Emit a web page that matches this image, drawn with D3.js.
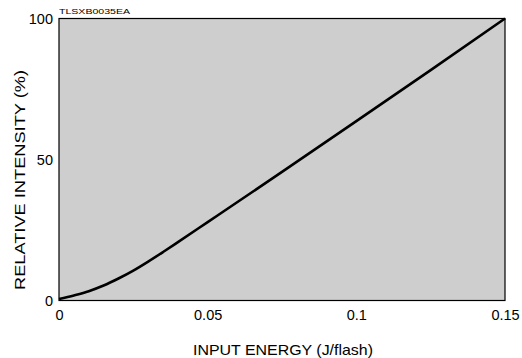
<!DOCTYPE html>
<html>
<head>
<meta charset="utf-8">
<script src="https://cdn.jsdelivr.net/npm/d3@7"></script>
<style>
  html, body { margin: 0; padding: 0; background: #fff; }
  svg { display: block; font-family: "Liberation Sans", Arial, sans-serif; }
</style>
</head>
<body>
<svg id="chart" width="522" height="358"></svg>
<script>
// Input energy (J/flash) vs relative intensity (%)
const energy    = [0, 0.005, 0.01, 0.015, 0.02, 0.025, 0.03, 0.035, 0.04, 0.05, 0.075, 0.1, 0.125, 0.15];
const intensity = [0.5, 1.8, 3.3, 5.3, 7.8, 10.6, 13.8, 17.2, 20.7, 27.8, 45.6, 63.6, 81.7, 100];
const xTicks = [0, 0.05, 0.1, 0.15];
const xTickLabels = ["0", "0.05", "0.1", "0.15"];
const yTicks = [0, 50, 100];
const yTickLabels = ["0", "50", "100"];
const xTitle = "INPUT ENERGY (J/flash)";
const yTitle = "RELATIVE INTENSITY (%)";
const code = "TLSXB0035EA";

const svg = d3.select("#chart");
const m = { left: 59, right: 17, top: 18.5, bottom: 57.5 };
const W = 522, H = 358;

const x = d3.scaleLinear().domain([0, 0.15]).range([m.left, W - m.right]);
const y = d3.scaleLinear().domain([0, 100]).range([H - m.bottom, m.top]);

// plot background
svg.append("rect")
  .attr("x", x(0)).attr("y", y(100))
  .attr("width", x(0.15) - x(0)).attr("height", y(0) - y(100))
  .attr("fill", "#cecece");

// curve
const pts = energy.map((e, i) => [e, intensity[i]]);
svg.append("path")
  .datum(pts)
  .attr("fill", "none")
  .attr("stroke", "#000")
  .attr("stroke-width", 2.6)
  .attr("d", d3.line().x(d => x(d[0])).y(d => y(d[1])).curve(d3.curveMonotoneX));

// frame
svg.append("rect")
  .attr("x", x(0)).attr("y", y(100))
  .attr("width", x(0.15) - x(0)).attr("height", y(0) - y(100))
  .attr("fill", "none").attr("stroke", "#000").attr("stroke-width", 1.2);

// axes (labels only, frame drawn above)
const xAxis = d3.axisBottom(x).tickValues(xTicks).tickSize(0).tickPadding(9)
  .tickFormat((d, i) => xTickLabels[i]);
const gx = svg.append("g").attr("transform", `translate(0,${y(0)})`).call(xAxis);
gx.select(".domain").remove();
gx.selectAll("text").attr("font-size", 14.5).attr("fill", "#000")
  .attr("font-family", "Liberation Sans, Arial, sans-serif");

const yAxis = d3.axisLeft(y).tickValues(yTicks).tickSize(0).tickPadding(6)
  .tickFormat((d, i) => yTickLabels[i]);
const gy = svg.append("g").attr("transform", `translate(${x(0)},0)`).call(yAxis);
gy.select(".domain").remove();
gy.selectAll("text").attr("font-size", 14.5).attr("fill", "#000")
  .attr("font-family", "Liberation Sans, Arial, sans-serif");

// titles
svg.append("text")
  .attr("x", 283).attr("y", 354.5)
  .attr("text-anchor", "middle").attr("font-size", 14.5).attr("fill", "#000")
  .attr("textLength", 180).attr("lengthAdjust", "spacingAndGlyphs")
  .text(xTitle);

svg.append("text")
  .attr("transform", "translate(25,180) rotate(-90)")
  .attr("text-anchor", "middle").attr("font-size", 14.5).attr("fill", "#000")
  .attr("textLength", 220).attr("lengthAdjust", "spacingAndGlyphs")
  .text(yTitle);

svg.append("text")
  .attr("x", 59).attr("y", 14)
  .attr("font-size", 8).attr("fill", "#000")
  .attr("textLength", 71).attr("lengthAdjust", "spacingAndGlyphs")
  .text(code);
</script>
</body>
</html>
